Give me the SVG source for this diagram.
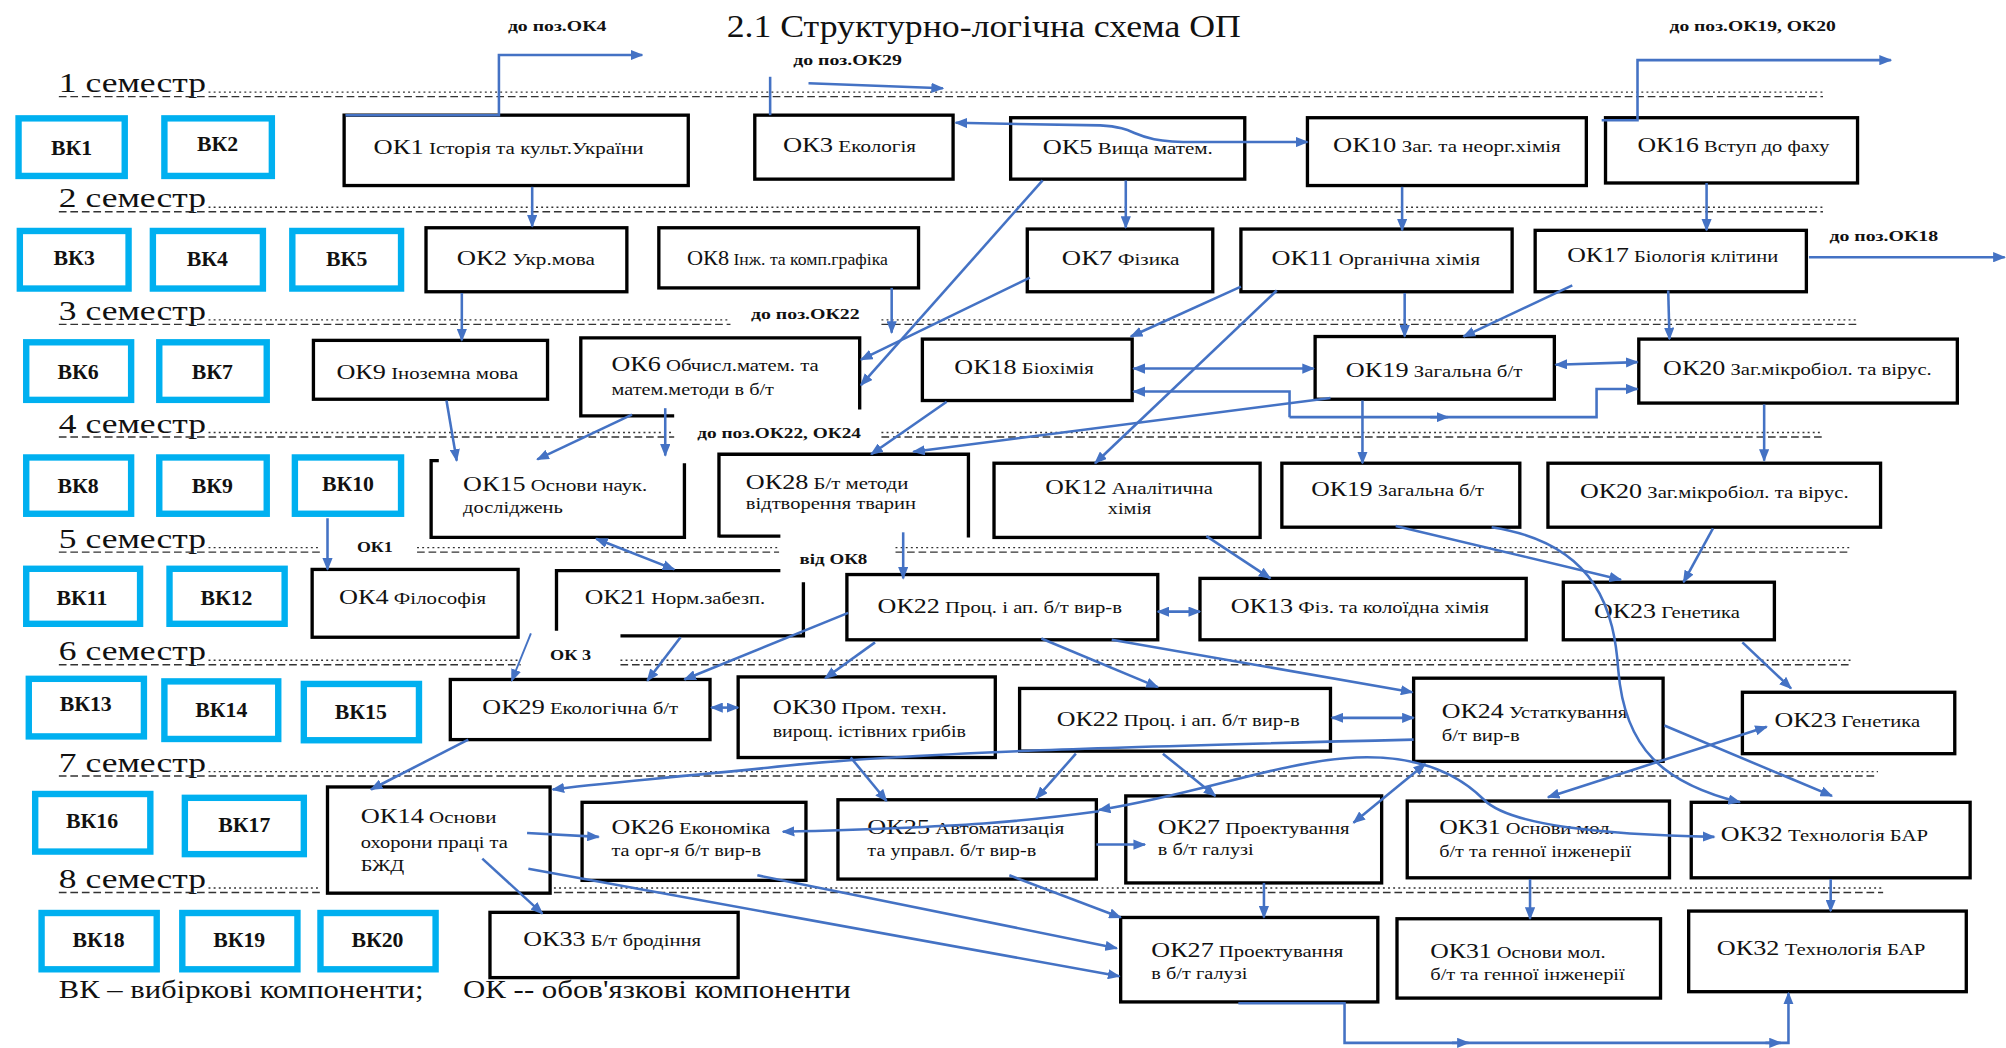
<svg xmlns="http://www.w3.org/2000/svg" width="2006" height="1048" viewBox="0 0 2006 1048">
<style>
text{font-family:"Liberation Serif","Times New Roman",serif;fill:#111}
.k{font-size:17px}
.s{font-size:13.5px}
.s2{font-size:13px}
.vk rect{fill:#fff;stroke:#00b0f0;stroke-width:5}
.vk text{font-size:17px;font-weight:bold;text-anchor:middle}
.ok rect,.ok path{fill:#fff;stroke:#000;stroke-width:2.6}
.ok path.o{fill:none}
.sem{font-size:22px}
.ann{font-size:12px;font-weight:bold}
.dash{stroke:#333;stroke-width:1.1;stroke-dasharray:6 3;fill:none}
.dot{stroke:#333;stroke-width:1.1;stroke-dasharray:1.5 2.5;fill:none}
.c path{fill:none;stroke:#4472c4;stroke-width:2;marker-end:url(#a)}
.c path.b{marker-start:url(#a)}
.c path.n{marker-end:none}
</style>
<defs>
<marker id="a" viewBox="0 0 10 8" refX="9" refY="4" markerWidth="10" markerHeight="8" markerUnits="userSpaceOnUse" orient="auto-start-reverse"><path d="M0,0 L10,4 L0,8 z" fill="#4472c4"/></marker>
</defs>
<rect width="2006" height="1048" fill="#fff"/>
<g transform="scale(1.2793,1.2796)">
<text x="568" y="29" style="font-size:25px" textLength="402" lengthAdjust="spacingAndGlyphs">2.1 Структурно-логічна схема ОП</text>

<g id="semesters">
<text class="sem" x="46" y="72" textLength="115" lengthAdjust="spacingAndGlyphs">1 семестр</text>
<path class="dash" d="M46,75.5 H1425"/><path class="dot" d="M163,72 H1425"/>
<text class="sem" x="46" y="162" textLength="115" lengthAdjust="spacingAndGlyphs">2 семестр</text>
<path class="dash" d="M46,165.5 H1425"/><path class="dot" d="M163,162 H1425"/>
<text class="sem" x="46" y="250" textLength="115" lengthAdjust="spacingAndGlyphs">3 семестр</text>
<path class="dash" d="M46,253.5 H571 M689,253.5 H1452"/><path class="dot" d="M163,250 H571 M689,250 H1452"/>
<text class="sem" x="46" y="338" textLength="115" lengthAdjust="spacingAndGlyphs">4 семестр</text>
<path class="dash" d="M46,341.5 H527 M689,341.5 H1425"/><path class="dot" d="M163,338 H527 M689,338 H1425"/>
<text class="sem" x="46" y="428" textLength="115" lengthAdjust="spacingAndGlyphs">5 семестр</text>
<path class="dash" d="M46,431.5 H251 M326,431.5 H609 M700,431.5 H1447"/><path class="dot" d="M163,428 H251 M326,428 H609 M700,428 H1447"/>
<text class="sem" x="46" y="516" textLength="115" lengthAdjust="spacingAndGlyphs">6 семестр</text>
<path class="dash" d="M46,519.5 H407 M485,519.5 H1447"/><path class="dot" d="M163,516 H407 M485,516 H1447"/>
<text class="sem" x="46" y="603" textLength="115" lengthAdjust="spacingAndGlyphs">7 семестр</text>
<path class="dash" d="M46,606.5 H1468"/><path class="dot" d="M163,603 H1468"/>
<text class="sem" x="46" y="694" textLength="115" lengthAdjust="spacingAndGlyphs">8 семестр</text>
<path class="dash" d="M46,697.5 H251 M433,697.5 H1472"/><path class="dot" d="M163,694 H251 M433,694 H1472"/>
</g>

<g id="annotations">
<text class="ann" x="397" y="24" textLength="77" lengthAdjust="spacingAndGlyphs">до поз.ОК4</text>
<text class="ann" x="620" y="51" textLength="85" lengthAdjust="spacingAndGlyphs">до поз.ОК29</text>
<text class="ann" x="1305" y="24" textLength="130" lengthAdjust="spacingAndGlyphs">до поз.ОК19, ОК20</text>
<text class="ann" x="1430" y="188" textLength="85" lengthAdjust="spacingAndGlyphs">до поз.ОК18</text>
<text class="ann" x="587" y="249" textLength="85" lengthAdjust="spacingAndGlyphs">до поз.ОК22</text>
<text class="ann" x="545" y="342" textLength="128" lengthAdjust="spacingAndGlyphs">до поз.ОК22, ОК24</text>
<text class="ann" x="279" y="431" textLength="28" lengthAdjust="spacingAndGlyphs">ОК1</text>
<text class="ann" x="625" y="441" textLength="53" lengthAdjust="spacingAndGlyphs">від ОК8</text>
<text class="ann" x="430" y="516" textLength="32" lengthAdjust="spacingAndGlyphs">ОК 3</text>
</g>

<g id="VK1" class="vk"><rect x="14.5" y="92.5" width="83" height="45"/><text x="56" y="121">ВК1</text></g>
<g id="VK2" class="vk"><rect x="128.5" y="92.5" width="84" height="45"/><text x="170" y="118">ВК2</text></g>
<g id="VK3" class="vk"><rect x="15.5" y="180.5" width="85" height="45"/><text x="58" y="207">ВК3</text></g>
<g id="VK4" class="vk"><rect x="119.5" y="180.5" width="86" height="45"/><text x="162" y="208">ВК4</text></g>
<g id="VK5" class="vk"><rect x="228.5" y="180.5" width="85" height="45"/><text x="271" y="208">ВК5</text></g>
<g id="VK6" class="vk"><rect x="20.5" y="267.5" width="82" height="45"/><text x="61" y="296">ВК6</text></g>
<g id="VK7" class="vk"><rect x="124.5" y="267.5" width="84" height="45"/><text x="166" y="296">ВК7</text></g>
<g id="VK8" class="vk"><rect x="20.5" y="357.5" width="82" height="44"/><text x="61" y="385">ВК8</text></g>
<g id="VK9" class="vk"><rect x="124.5" y="357.5" width="84" height="44"/><text x="166" y="385">ВК9</text></g>
<g id="VK10" class="vk"><rect x="230.5" y="357.5" width="83" height="44"/><text x="272" y="384">ВК10</text></g>
<g id="VK11" class="vk"><rect x="20.5" y="444.5" width="89" height="43"/><text x="64" y="473">ВК11</text></g>
<g id="VK12" class="vk"><rect x="132.5" y="444.5" width="90" height="43"/><text x="177" y="473">ВК12</text></g>
<g id="VK13" class="vk"><rect x="22.5" y="530.5" width="90" height="45"/><text x="67" y="556">ВК13</text></g>
<g id="VK14" class="vk"><rect x="128.5" y="532.5" width="89" height="45"/><text x="173" y="560">ВК14</text></g>
<g id="VK15" class="vk"><rect x="237.5" y="534.5" width="90" height="44"/><text x="282" y="562">ВК15</text></g>
<g id="VK16" class="vk"><rect x="27.5" y="620.5" width="90" height="45"/><text x="72" y="647">ВК16</text></g>
<g id="VK17" class="vk"><rect x="144.5" y="623.5" width="93" height="44"/><text x="191" y="650">ВК17</text></g>
<g id="VK18" class="vk"><rect x="32.5" y="713.5" width="90" height="44"/><text x="77" y="740">ВК18</text></g>
<g id="VK19" class="vk"><rect x="142.5" y="713.5" width="90" height="44"/><text x="187" y="740">ВК19</text></g>
<g id="VK20" class="vk"><rect x="250.5" y="713.5" width="90" height="44"/><text x="295" y="740">ВК20</text></g>

<g id="OK1" class="ok"><rect x="269" y="90" width="269" height="55"/><text x="292" y="120" textLength="211" lengthAdjust="spacingAndGlyphs"><tspan class="k">ОК1</tspan><tspan class="s"> Історія та культ.України</tspan></text></g>
<g id="OK3" class="ok"><rect x="590" y="90" width="155" height="50"/><text x="612" y="119" textLength="104" lengthAdjust="spacingAndGlyphs"><tspan class="k">ОК3</tspan><tspan class="s"> Екологія</tspan></text></g>
<g id="OK5" class="ok"><rect x="790" y="92" width="183" height="48"/><text x="815" y="120" textLength="133" lengthAdjust="spacingAndGlyphs"><tspan class="k">ОК5</tspan><tspan class="s"> Вища матем.</tspan></text></g>
<g id="OK10" class="ok"><rect x="1022" y="92" width="218" height="53"/><text x="1042" y="119" textLength="178" lengthAdjust="spacingAndGlyphs"><tspan class="k">ОК10</tspan><tspan class="s"> Заг. та неорг.хімія</tspan></text></g>
<g id="OK16" class="ok"><rect x="1255" y="92" width="197" height="51"/><text x="1280" y="119" textLength="150" lengthAdjust="spacingAndGlyphs"><tspan class="k">ОК16</tspan><tspan class="s"> Вступ до фаху</tspan></text></g>

<g id="OK2" class="ok"><rect x="333" y="178" width="157" height="50"/><text x="357" y="207" textLength="108" lengthAdjust="spacingAndGlyphs"><tspan class="k">ОК2</tspan><tspan class="s"> Укр.мова</tspan></text></g>
<g id="OK8" class="ok"><rect x="515" y="178" width="203" height="47"/><text x="537" y="207" textLength="157" lengthAdjust="spacingAndGlyphs"><tspan class="k">ОК8</tspan><tspan class="s"> Інж. та комп.графіка</tspan></text></g>
<g id="OK7" class="ok"><rect x="803" y="179" width="145" height="49"/><text x="830" y="207" textLength="92" lengthAdjust="spacingAndGlyphs"><tspan class="k">ОК7</tspan><tspan class="s"> Фізика</tspan></text></g>
<g id="OK11" class="ok"><rect x="970" y="179" width="212" height="49"/><text x="994" y="207" textLength="163" lengthAdjust="spacingAndGlyphs"><tspan class="k">ОК11</tspan><tspan class="s"> Органічна хімія</tspan></text></g>
<g id="OK17" class="ok"><rect x="1200" y="180" width="212" height="48"/><text x="1225" y="205" textLength="165" lengthAdjust="spacingAndGlyphs"><tspan class="k">ОК17</tspan><tspan class="s"> Біологія клітини</tspan></text></g>

<g id="OK9" class="ok"><rect x="245" y="266" width="183" height="46"/><text x="263" y="296" textLength="142" lengthAdjust="spacingAndGlyphs"><tspan class="k">ОК9</tspan><tspan class="s"> Іноземна мова</tspan></text></g>
<g id="OK6" class="ok"><rect x="454" y="264" width="218" height="59" style="stroke:none"/><path class="o" d="M527,325 H454 V264 H672 V320"/><text x="478" y="290" textLength="162" lengthAdjust="spacingAndGlyphs"><tspan class="k">ОК6</tspan><tspan class="s"> Обчисл.матем. та</tspan></text><text class="s2" x="478" y="309" textLength="127" lengthAdjust="spacingAndGlyphs">матем.методи в б/т</text></g>
<g id="OK18" class="ok"><rect x="721" y="265" width="164" height="48"/><text x="746" y="292" textLength="109" lengthAdjust="spacingAndGlyphs"><tspan class="k">ОК18</tspan><tspan class="s"> Біохімія</tspan></text></g>
<g id="OK19" class="ok"><rect x="1028" y="263" width="187" height="49"/><text x="1052" y="295" textLength="138" lengthAdjust="spacingAndGlyphs"><tspan class="k">ОК19</tspan><tspan class="s"> Загальна б/т</tspan></text></g>
<g id="OK20" class="ok"><rect x="1281" y="265" width="249" height="50"/><text x="1300" y="293" textLength="210" lengthAdjust="spacingAndGlyphs"><tspan class="k">ОК20</tspan><tspan class="s"> Заг.мікробіол. та вірус.</tspan></text></g>

<g id="OK15" class="ok"><rect x="337" y="360" width="198" height="60" style="stroke:none"/><path class="o" d="M343,360 H337 V420 H535 V362"/><text x="362" y="384" textLength="144" lengthAdjust="spacingAndGlyphs"><tspan class="k">ОК15</tspan><tspan class="s"> Основи наук.</tspan></text><text class="s2" x="362" y="401" textLength="78" lengthAdjust="spacingAndGlyphs">досліджень</text></g>
<g id="OK28" class="ok"><rect x="562" y="355" width="195" height="63" style="stroke:none"/><path class="o" d="M562,420 V355 H757 V420 M562,419 H610"/><text x="583" y="382" textLength="127" lengthAdjust="spacingAndGlyphs"><tspan class="k">ОК28</tspan><tspan class="s"> Б/т методи</tspan></text><text class="s2" x="583" y="398" textLength="133" lengthAdjust="spacingAndGlyphs">відтворення тварин</text></g>
<g id="OK12" class="ok"><rect x="777" y="362" width="208" height="58"/><text x="817" y="386" textLength="131" lengthAdjust="spacingAndGlyphs"><tspan class="k">ОК12</tspan><tspan class="s"> Аналітична</tspan></text><text class="s2" x="866" y="402" textLength="34" lengthAdjust="spacingAndGlyphs">хімія</text></g>
<g id="OK19b" class="ok"><rect x="1002" y="362" width="186" height="50"/><text x="1025" y="388" textLength="135" lengthAdjust="spacingAndGlyphs"><tspan class="k">ОК19</tspan><tspan class="s"> Загальна б/т</tspan></text></g>
<g id="OK20b" class="ok"><rect x="1210" y="362" width="260" height="50"/><text x="1235" y="389" textLength="210" lengthAdjust="spacingAndGlyphs"><tspan class="k">ОК20</tspan><tspan class="s"> Заг.мікробіол. та вірус.</tspan></text></g>

<g id="OK4" class="ok"><rect x="244" y="445" width="161" height="53"/><text x="265" y="472" textLength="115" lengthAdjust="spacingAndGlyphs"><tspan class="k">ОК4</tspan><tspan class="s"> Філософія</tspan></text></g>
<g id="OK21" class="ok"><rect x="435" y="446" width="193" height="51" style="stroke:none"/><path class="o" d="M435,493 V446 H610 M628,455 V497 H485"/><text x="457" y="472" textLength="141" lengthAdjust="spacingAndGlyphs"><tspan class="k">ОК21</tspan><tspan class="s"> Норм.забезп.</tspan></text></g>
<g id="OK22a" class="ok"><rect x="662" y="449" width="243" height="51"/><text x="686" y="479" textLength="191" lengthAdjust="spacingAndGlyphs"><tspan class="k">ОК22</tspan><tspan class="s"> Проц. і ап. б/т вир-в</tspan></text></g>
<g id="OK13" class="ok"><rect x="938" y="452" width="255" height="48"/><text x="962" y="479" textLength="202" lengthAdjust="spacingAndGlyphs"><tspan class="k">ОК13</tspan><tspan class="s"> Фіз. та колоїдна хімія</tspan></text></g>
<g id="OK23a" class="ok"><rect x="1222" y="455" width="165" height="45"/><text x="1246" y="483" textLength="114" lengthAdjust="spacingAndGlyphs"><tspan class="k">ОК23</tspan><tspan class="s"> Генетика</tspan></text></g>

<g id="OK29" class="ok"><rect x="352" y="531" width="203" height="47"/><text x="377" y="558" textLength="153" lengthAdjust="spacingAndGlyphs"><tspan class="k">ОК29</tspan><tspan class="s"> Екологічна б/т</tspan></text></g>
<g id="OK30" class="ok"><rect x="577" y="529" width="201" height="63"/><text x="604" y="558" textLength="136" lengthAdjust="spacingAndGlyphs"><tspan class="k">ОК30</tspan><tspan class="s"> Пром. техн.</tspan></text><text class="s2" x="604" y="576" textLength="151" lengthAdjust="spacingAndGlyphs">вирощ. істівних грибів</text></g>
<g id="OK22b" class="ok"><rect x="797" y="538" width="243" height="49"/><text x="826" y="567" textLength="190" lengthAdjust="spacingAndGlyphs"><tspan class="k">ОК22</tspan><tspan class="s"> Проц. і ап. б/т вир-в</tspan></text></g>
<g id="OK24" class="ok"><rect x="1105" y="530" width="195" height="65"/><text x="1127" y="561" textLength="145" lengthAdjust="spacingAndGlyphs"><tspan class="k">ОК24</tspan><tspan class="s"> Устаткування</tspan></text><text class="s2" x="1127" y="579" textLength="61" lengthAdjust="spacingAndGlyphs">б/т вир-в</text></g>
<g id="OK23b" class="ok"><rect x="1362" y="541" width="166" height="48"/><text x="1387" y="568" textLength="114" lengthAdjust="spacingAndGlyphs"><tspan class="k">ОК23</tspan><tspan class="s"> Генетика</tspan></text></g>

<g id="OK14" class="ok"><rect x="256" y="615" width="174" height="83"/><text x="282" y="643" textLength="106" lengthAdjust="spacingAndGlyphs"><tspan class="k">ОК14</tspan><tspan class="s"> Основи</tspan></text><text class="s2" x="282" y="663" textLength="115" lengthAdjust="spacingAndGlyphs">охорони праці та</text><text class="s2" x="282" y="681" textLength="34" lengthAdjust="spacingAndGlyphs">БЖД</text></g>
<g id="OK26" class="ok"><rect x="455" y="627" width="175" height="61"/><text x="478" y="652" textLength="124" lengthAdjust="spacingAndGlyphs"><tspan class="k">ОК26</tspan><tspan class="s"> Економіка</tspan></text><text class="s2" x="478" y="669" textLength="117" lengthAdjust="spacingAndGlyphs">та орг-я б/т вир-в</text></g>
<g id="OK25" class="ok"><rect x="655" y="625" width="202" height="62"/><text x="678" y="652" textLength="154" lengthAdjust="spacingAndGlyphs"><tspan class="k">ОК25</tspan><tspan class="s"> Автоматизація</tspan></text><text class="s2" x="678" y="669" textLength="132" lengthAdjust="spacingAndGlyphs">та управл. б/т вир-в</text></g>
<g id="OK27a" class="ok"><rect x="880" y="622" width="200" height="68"/><text x="905" y="652" textLength="150" lengthAdjust="spacingAndGlyphs"><tspan class="k">ОК27</tspan><tspan class="s"> Проектування</tspan></text><text class="s2" x="905" y="668" textLength="75" lengthAdjust="spacingAndGlyphs">в б/т галузі</text></g>
<g id="OK31a" class="ok"><rect x="1100" y="626" width="205" height="60"/><text x="1125" y="652" textLength="137" lengthAdjust="spacingAndGlyphs"><tspan class="k">ОК31</tspan><tspan class="s"> Основи мол.</tspan></text><text class="s2" x="1125" y="670" textLength="150" lengthAdjust="spacingAndGlyphs">б/т та генної інженерії</text></g>
<g id="OK32a" class="ok"><rect x="1322" y="627" width="218" height="59"/><text x="1345" y="657" textLength="162" lengthAdjust="spacingAndGlyphs"><tspan class="k">ОК32</tspan><tspan class="s"> Технологія БАР</tspan></text></g>

<g id="OK33" class="ok"><rect x="383" y="713" width="194" height="51"/><text x="409" y="739" textLength="139" lengthAdjust="spacingAndGlyphs"><tspan class="k">ОК33</tspan><tspan class="s"> Б/т бродіння</tspan></text></g>
<g id="OK27b" class="ok"><rect x="876" y="717" width="201" height="66"/><text x="900" y="748" textLength="150" lengthAdjust="spacingAndGlyphs"><tspan class="k">ОК27</tspan><tspan class="s"> Проектування</tspan></text><text class="s2" x="900" y="765" textLength="75" lengthAdjust="spacingAndGlyphs">в б/т галузі</text></g>
<g id="OK31b" class="ok"><rect x="1092" y="718" width="206" height="62"/><text x="1118" y="749" textLength="137" lengthAdjust="spacingAndGlyphs"><tspan class="k">ОК31</tspan><tspan class="s"> Основи мол.</tspan></text><text class="s2" x="1118" y="766" textLength="152" lengthAdjust="spacingAndGlyphs">б/т та генної інженерії</text></g>
<g id="OK32b" class="ok"><rect x="1320" y="712" width="217" height="63"/><text x="1342" y="746" textLength="163" lengthAdjust="spacingAndGlyphs"><tspan class="k">ОК32</tspan><tspan class="s"> Технологія БАР</tspan></text></g>

<g id="connectors" class="c">
<path d="M270,90 H390 V43 H502"/>
<path d="M416,146 V177"/>
<path class="n" d="M602,90 V60"/>
<path d="M632,65 L737,69"/>
<path class="b" d="M747,96 L860,98 C895,100 880,111 935,111 L1022,111"/>
<path d="M1252,94 H1280 V47 H1478"/>
<path d="M880,141 V178"/>
<path d="M1096,146 V180"/>
<path d="M1334,143 V180"/>
<path d="M1414,201 H1567"/>
<path d="M815,141 L673,301"/>
<path d="M805,217 L673,281"/>
<path d="M697,225 V260"/>
<path d="M361,229 V266"/>
<path d="M970,224 L884,263"/>
<path d="M998,227 L856,362"/>
<path d="M1098,229 V263"/>
<path d="M1229,223 L1144,263"/>
<path d="M1304,227 L1305,265"/>
<path class="b" d="M886,288 H1027"/>
<path class="b" d="M1216,285 L1280,283"/>
<path d="M1008,326 V306 H886"/>
<path d="M1008,326 H1248 V304 H1280"/>
<path d="M1118,326 H1132"/>
<path d="M1040,311 L714,353"/>
<path d="M740,314 L681,355"/>
<path d="M494,324 L420,359"/>
<path d="M520,319 V356"/>
<path d="M349,313 L357,360"/>
<path class="b" d="M466,421 L527,445"/>
<path d="M256,405 V445"/>
<path style="stroke-width:1.5" d="M415,495 L400,532"/>
<path d="M532,498 L506,532"/>
<path d="M663,479 L535,531"/>
<path d="M684,502 L645,530"/>
<path class="b" d="M556,553 H577"/>
<path d="M943,419 L993,452"/>
<path class="b" d="M905,478 H938"/>
<path d="M814,499 L905,537"/>
<path d="M869,500 L1104,541"/>
<path d="M1091,411 L1267,453"/>
<path d="M1339,413 L1316,455"/>
<path d="M1166,412 C1250,425 1262,480 1265,524 C1270,585 1300,612 1360,627"/>
<path d="M1362,502 L1400,538"/>
<path class="b" d="M1041,561 H1105"/>
<path class="b" d="M1210,623 L1381,568"/>
<path d="M1301,567 L1432,622"/>
<path class="b" d="M1058,643 L1114,597"/>
<path d="M1105,578 C900,583 700,588 600,600 C500,610 460,613 432,617"/>
<path d="M859,634 C800,642 760,646 612,650"/>
<path class="b" d="M859,633 C940,620 1000,595 1060,592 C1110,590 1140,605 1160,625 C1180,645 1250,652 1340,654"/>
<path d="M665,592 L693,626"/>
<path d="M841,589 L810,624"/>
<path d="M909,589 L950,622"/>
<path d="M857,660 H895"/>
<path d="M412,651 L468,654"/>
<path d="M377,671 L424,714"/>
<path d="M413,679 L875,763"/>
<path d="M592,684 L873,741"/>
<path d="M789,684 L876,717"/>
<path d="M988,690 V717"/>
<path d="M968,784 H1051 V815 H1398 V776"/>
<path d="M1135,815 H1148"/>
<path d="M1380,815 H1392"/>
<path d="M1196,687 V718"/>
<path d="M1431,687 V712"/>
<path d="M1379,316 V360"/>
<path d="M1065,313 V362"/>
<path d="M706,416 V452"/>
<path d="M366,578 L290,617"/>
</g>

<g id="legend">
<text x="46" y="780" style="font-size:20px" textLength="285" lengthAdjust="spacingAndGlyphs">ВК – вибіркові компоненти;</text>
<text x="362" y="780" style="font-size:20px" textLength="303" lengthAdjust="spacingAndGlyphs">ОК -- обов'язкові компоненти</text>
</g>
</g>
</svg>
